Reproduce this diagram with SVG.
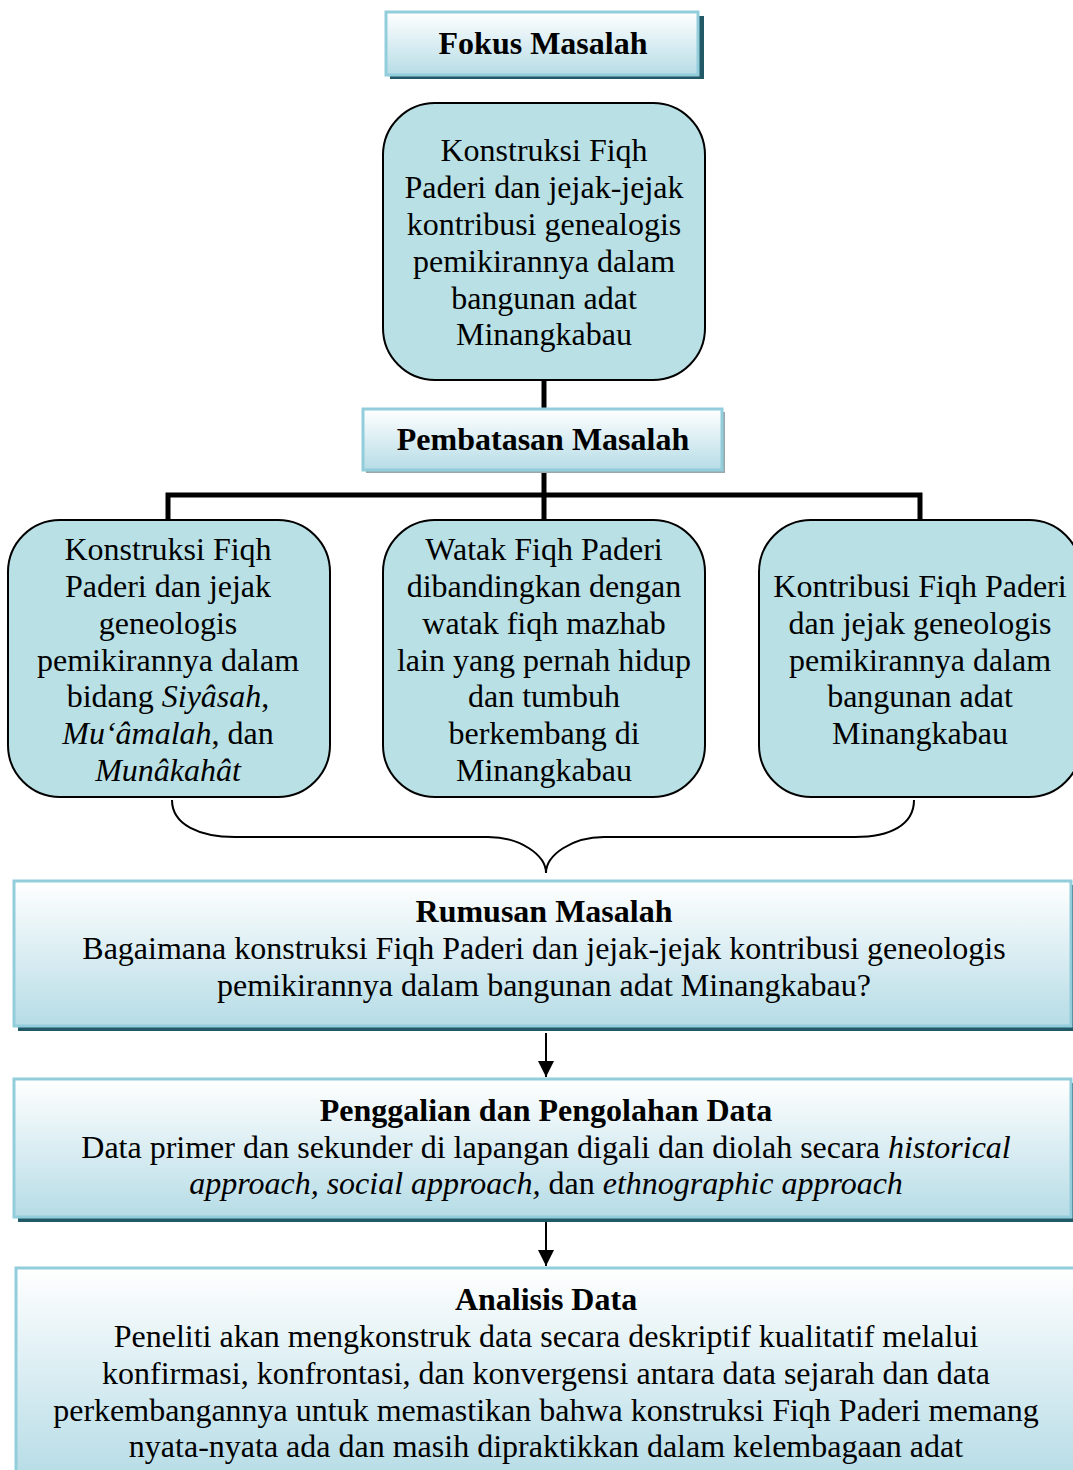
<svg xmlns="http://www.w3.org/2000/svg" width="1073" height="1470" viewBox="0 0 1073 1470">
<defs>
<linearGradient id="g" x1="0" y1="0" x2="0" y2="1">
<stop offset="0" stop-color="#ffffff"/>
<stop offset="1" stop-color="#b6dce6"/>
</linearGradient>
<marker id="ah" viewBox="0 0 10 10" refX="10" refY="5" markerWidth="16" markerHeight="16" markerUnits="userSpaceOnUse" orient="auto">
<path d="M0,0 L10,5 L0,10 z" fill="#000"/>
</marker>
</defs>
<style>
text{font-family:"Liberation Serif","Times New Roman",serif;font-size:32px;fill:#000;text-anchor:middle}
.b{font-weight:bold;font-size:32px}
.i{font-style:italic}
.hdr{fill:url(#g);stroke:#92cddc;stroke-width:3}
.sh{fill:#215967}
.shg{fill:#9aa7ab}
.rb{fill:#b9e0e5;stroke:#000;stroke-width:2}
.ln{stroke:#000;stroke-width:5;fill:none}
.th{stroke:#000;stroke-width:2;fill:none}
</style>
<g id="connectors">
<path class="ln" d="M544,380 V410"/>
<path class="ln" d="M544,470 V520 M168,520 V495 H920 V520"/>
<path class="th" d="M172,800 C172,825 200,837 235,837 H488 C520,837 546,855 546,873 C546,855 572,837 604,837 H855 C890,837 914,825 914,800"/>
<path class="th" d="M546,1033 V1077" marker-end="url(#ah)"/>
<path class="th" d="M546,1222 V1266" marker-end="url(#ah)"/>
</g>
<g id="fokus">
<rect class="sh" x="390" y="16" width="314" height="63"/>
<rect class="hdr" x="386" y="12" width="312" height="63"/>
<text class="b" x="543" y="54">Fokus Masalah</text>
</g>
<g id="fokus-isi">
<rect class="rb" x="383" y="103" width="322" height="277" rx="52"/>
<text x="544" y="161">Konstruksi Fiqh</text>
<text x="544" y="198">Paderi dan jejak-jejak</text>
<text x="544" y="235">kontribusi genealogis</text>
<text x="544" y="272">pemikirannya dalam</text>
<text x="544" y="309">bangunan adat</text>
<text x="544" y="345">Minangkabau</text>
</g>
<g id="pembatasan">
<rect class="shg" x="366" y="412" width="359" height="61"/>
<rect class="hdr" x="363" y="409" width="359" height="61"/>
<text class="b" x="543" y="450">Pembatasan Masalah</text>
</g>
<g id="batas1">
<rect class="rb" x="8" y="520" width="322" height="277" rx="52"/>
<text x="168" y="560">Konstruksi Fiqh</text>
<text x="168" y="597">Paderi dan jejak</text>
<text x="168" y="634">geneologis</text>
<text x="168" y="671">pemikirannya dalam</text>
<text x="168" y="707">bidang <tspan class="i">Siyâsah</tspan>,</text>
<text x="168" y="744"><tspan class="i">Mu‘âmalah</tspan>, dan</text>
<text x="168" y="781" class="i">Munâkahât</text>
</g>
<g id="batas2">
<rect class="rb" x="383" y="520" width="322" height="277" rx="52"/>
<text x="544" y="560">Watak Fiqh Paderi</text>
<text x="544" y="597">dibandingkan dengan</text>
<text x="544" y="634">watak fiqh mazhab</text>
<text x="544" y="671">lain yang pernah hidup</text>
<text x="544" y="707">dan tumbuh</text>
<text x="544" y="744">berkembang di</text>
<text x="544" y="781">Minangkabau</text>
</g>
<g id="batas3">
<rect class="rb" x="759" y="520" width="322" height="277" rx="52"/>
<text x="920" y="597">Kontribusi Fiqh Paderi</text>
<text x="920" y="634">dan jejak geneologis</text>
<text x="920" y="671">pemikirannya dalam</text>
<text x="920" y="707">bangunan adat</text>
<text x="920" y="744">Minangkabau</text>
</g>
<g id="rumusan">
<rect class="sh" x="18" y="885" width="1060" height="146"/>
<rect class="hdr" x="14" y="881" width="1057" height="145"/>
<text class="b" x="544" y="922">Rumusan Masalah</text>
<text x="544" y="959">Bagaimana konstruksi Fiqh Paderi dan jejak-jejak kontribusi geneologis</text>
<text x="544" y="996">pemikirannya dalam bangunan adat Minangkabau?</text>
</g>
<g id="penggalian">
<rect class="sh" x="18" y="1083" width="1060" height="139"/>
<rect class="hdr" x="14" y="1079" width="1057" height="138"/>
<text class="b" x="546" y="1121">Penggalian dan Pengolahan Data</text>
<text x="546" y="1158">Data primer dan sekunder di lapangan digali dan diolah secara <tspan class="i">historical</tspan></text>
<text x="546" y="1194"><tspan class="i">approach, social approach,</tspan> dan <tspan class="i">ethnographic approach</tspan></text>
</g>
<g id="analisis">
<rect class="hdr" x="16" y="1268" width="1060" height="210"/>
<text class="b" x="546" y="1310">Analisis Data</text>
<text x="546" y="1347">Peneliti akan mengkonstruk data secara deskriptif kualitatif melalui</text>
<text x="546" y="1384">konfirmasi, konfrontasi, dan konvergensi antara data sejarah dan data</text>
<text x="546" y="1421">perkembangannya untuk memastikan bahwa konstruksi Fiqh Paderi memang</text>
<text x="546" y="1457">nyata-nyata ada dan masih dipraktikkan dalam kelembagaan adat</text>
</g>
</svg>
